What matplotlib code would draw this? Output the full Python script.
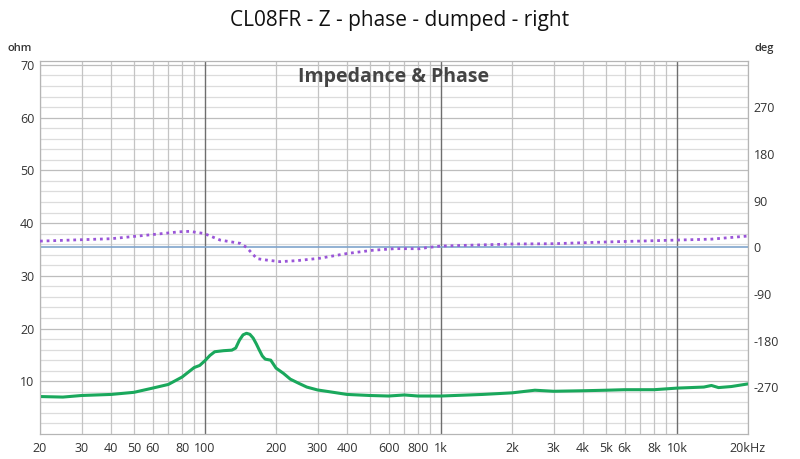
import matplotlib
matplotlib.use("Agg")
import matplotlib.pyplot as plt
import numpy as np

# impedance curve (ohm)
z_freq = [20, 25, 30, 40, 50, 60, 70, 80, 90, 95, 100, 105, 110, 120, 130, 135,
          140, 145, 150, 155, 160, 165, 170, 175, 180, 190, 200, 215, 230, 250,
          270, 300, 350, 400, 500, 600, 700, 800, 1000, 1500, 2000, 2500, 3000,
          4000, 5000, 6000, 8000, 10000, 13000, 14000, 15000, 17000, 20000]
z_ohm = [7.1, 7.0, 7.3, 7.5, 7.9, 8.7, 9.4, 10.8, 12.6, 13.0, 13.9, 14.9, 15.6,
         15.8, 15.9, 16.3, 17.8, 18.8, 19.1, 18.9, 18.2, 17.1, 15.9, 14.8, 14.2,
         14.0, 12.5, 11.5, 10.4, 9.6, 8.9, 8.35, 7.9, 7.5, 7.3, 7.2, 7.4, 7.2,
         7.2, 7.5, 7.8, 8.3, 8.1, 8.2, 8.3, 8.4, 8.4, 8.7, 8.9, 9.2, 8.8, 9.0,
         9.5]

# phase curve (deg)
p_freq = [20, 30, 40, 50, 63, 78, 86, 98, 100, 116, 141, 150, 166, 182, 208,
          245, 307, 399, 510, 640, 815, 870, 1000, 2000, 3000, 5000, 10000,
          14000, 20000]
p_deg = [12, 14.7, 16.6, 21, 25.6, 30, 30.8, 27, 26, 14, 7.7, 0, -21.8, -24.5,
         -27.6, -25.7, -21, -12, -5.8, -2.5, -2.7, -0.6, 2.5, 6.4, 7, 10.3, 14,
         15.8, 21.8]

xticks = [20, 30, 40, 50, 60, 80, 100, 200, 300, 400, 600, 800, 1000, 2000,
          3000, 4000, 5000, 6000, 8000, 10000, 20000]
xlabels = ["20", "30", "40", "50", "60", "80", "100", "200", "300", "400", "600",
           "800", "1k", "2k", "3k", "4k", "5k", "6k", "8k", "10k", "20kHz"]

plt.rcParams["font.family"] = ["Open Sans", "DejaVu Sans"]

fig = plt.figure(figsize=(8, 4.59), dpi=100)
ax = fig.add_axes([0.05, 0.0545, 0.885, 0.8133])
ax2 = ax.twinx()

ax.set_xscale("log")
ax.set_xlim(20, 20000)
ax.set_ylim(0, 70.8)
ax2.set_ylim(-360, 360)

# grid
for y in np.arange(2, 71, 2):
    c = "#bdbdbd" if y % 10 == 0 else "#dcdcdc"
    ax.axhline(y, color=c, lw=0.9, zorder=0)
minor_f = [f * d for d in (10, 100, 1000) for f in range(2, 10)] + [20000]
for f in minor_f:
    ax.axvline(f, color="#c4c4c4", lw=0.9, zorder=0)
for f in (100, 1000, 10000):
    ax.axvline(f, color="#6e6e6e", lw=1.0, zorder=0)

ax2.axhline(0, color="#7fa4cc", lw=1.2, zorder=1)

ax.plot(z_freq, z_ohm, color="#1aa85c", lw=2.2, zorder=3,
        solid_joinstyle="round")
ax2.plot(p_freq, p_deg, color="#9a55d8", lw=2.0, ls=(0, (1, 1.4)), zorder=3)

ax.set_xticks(xticks)
ax.set_xticklabels(xlabels)
ax.xaxis.set_minor_locator(matplotlib.ticker.NullLocator())
ax.set_yticks([10, 20, 30, 40, 50, 60, 70])
ax2.set_yticks([-270, -180, -90, 0, 90, 180, 270])
ax2.set_yticklabels(["-270", "-180", "-90", "0", "90", "180", "270"])

for a in (ax, ax2):
    a.tick_params(length=0, labelsize=9, colors="#333333", pad=4)
    for s in a.spines.values():
        s.set_color("#b5b5b5")

ax.tick_params(axis="x", pad=6)

fig.text(0.5, 0.955, "CL08FR - Z - phase - dumped - right", ha="center",
         va="center", fontsize=15, color="#111111")
fig.text(0.025, 0.895, "ohm", ha="center", va="center", fontsize=8,
         color="#333333", fontweight="semibold")
fig.text(0.955, 0.895, "deg", ha="center", va="center", fontsize=8,
         color="#333333", fontweight="semibold")
ax.text(0.5, 0.955, "Impedance & Phase", transform=ax.transAxes, ha="center",
        va="center", fontsize=14, fontweight="bold", color="#444444")

fig.savefig("out.png", dpi=100)
